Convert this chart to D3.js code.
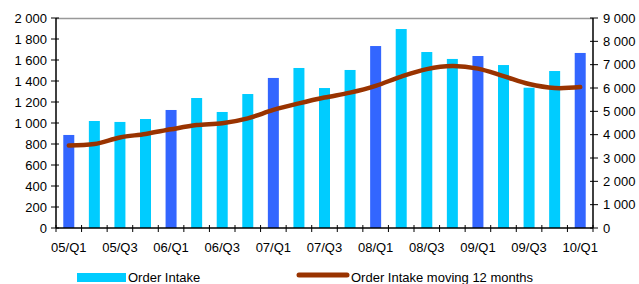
<!DOCTYPE html>
<html>
<head>
<meta charset="utf-8">
<script src="https://cdn.jsdelivr.net/npm/d3@7"></script>
<style>
  body { margin: 0; background: #fff; }
  svg { display: block; }
</style>
</head>
<body>
<script>
// Data
const quarters = ["05/Q1","05/Q2","05/Q3","05/Q4","06/Q1","06/Q2","06/Q3","06/Q4",
  "07/Q1","07/Q2","07/Q3","07/Q4","08/Q1","08/Q2","08/Q3","08/Q4",
  "09/Q1","09/Q2","09/Q3","09/Q4","10/Q1"];
const orderIntake = [886, 1019, 1010, 1038, 1124, 1238, 1105, 1276,
  1429, 1524, 1333, 1505, 1733, 1895, 1676, 1610,
  1638, 1552, 1336, 1495, 1667];
const movingTwelve = [3540, 3600, 3880, 4030, 4230, 4410, 4490, 4700,
  5060, 5340, 5590, 5800, 6090, 6490, 6810, 6940,
  6830, 6510, 6170, 6000, 6040];
const leftTicks = [0, 200, 400, 600, 800, 1000, 1200, 1400, 1600, 1800, 2000];
const rightTicks = [0, 1000, 2000, 3000, 4000, 5000, 6000, 7000, 8000, 9000];

// Colors
const cyan = '#00ccff';
const blue = '#3366ff';
const lineColor = '#993300';

const width = 639, height = 284;
const m = {left: 56, right: 46, top: 18, bottom: 56};
const x0 = m.left, x1 = width - m.right;
const y0 = height - m.bottom, y1 = m.top;

const fmt = v => d3.format(",")(v).replace(/,/g, " ");

const svg = d3.select("body").append("svg")
  .attr("width", width)
  .attr("height", height)
  .attr("font-family", "'Liberation Sans', Arial, sans-serif")
  .attr("font-size", 13);

const x = d3.scaleBand().domain(quarters).range([x0, x1]).paddingInner(0.57).paddingOuter(0.285);
const xc = d => x(d) + x.bandwidth() / 2;
const yL = d3.scaleLinear().domain([0, 2000]).range([y0, y1]);
const yR = d3.scaleLinear().domain([0, 9000]).range([y0, y1]);

// top border
svg.append("line")
  .attr("x1", x0).attr("x2", x1).attr("y1", y1 + 0.5).attr("y2", y1 + 0.5)
  .attr("stroke", "#999").attr("stroke-width", 1.5);

// bars
svg.append("g")
  .selectAll("rect")
  .data(quarters)
  .join("rect")
  .attr("x", d => x(d))
  .attr("width", x.bandwidth())
  .attr("y", (d, i) => yL(orderIntake[i]))
  .attr("height", (d, i) => y0 - yL(orderIntake[i]))
  .attr("fill", d => d.endsWith("Q1") ? blue : cyan);

// moving 12 months line
svg.append("path")
  .datum(movingTwelve)
  .attr("fill", "none")
  .attr("stroke", lineColor)
  .attr("stroke-width", 4.5)
  .attr("stroke-linecap", "round")
  .attr("stroke-linejoin", "round")
  .attr("d", d3.line()
    .x((d, i) => xc(quarters[i]))
    .y(d => yR(d))
    .curve(d3.curveCatmullRom.alpha(0.5)));

// axes
const axisG = svg.append("g").attr("stroke", "#000").attr("stroke-width", 1.5);
axisG.append("line").attr("x1", x0).attr("x2", x0).attr("y1", y1).attr("y2", y0);
axisG.append("line").attr("x1", x1).attr("x2", x1).attr("y1", y1).attr("y2", y0);
axisG.append("line").attr("x1", x0).attr("x2", x1).attr("y1", y0).attr("y2", y0);

axisG.selectAll(".lt").data(leftTicks).join("line")
  .attr("x1", x0 - 5).attr("x2", x0 + 3)
  .attr("y1", d => yL(d)).attr("y2", d => yL(d)).attr("stroke-width", 1);
axisG.selectAll(".rt").data(rightTicks).join("line")
  .attr("x1", x1 - 3).attr("x2", x1 + 5)
  .attr("y1", d => yR(d)).attr("y2", d => yR(d)).attr("stroke-width", 1);

const bounds = d3.range(quarters.length + 1).map(i => x0 + i * (x1 - x0) / quarters.length);
axisG.selectAll(".bt").data(bounds).join("line")
  .attr("x1", d => d).attr("x2", d => d)
  .attr("y1", y0 - 3).attr("y2", y0 + 4).attr("stroke-width", 1);

svg.append("g").selectAll("text").data(leftTicks).join("text")
  .attr("x", x0 - 9).attr("y", d => yL(d)).attr("dy", "0.35em")
  .attr("text-anchor", "end").attr("fill", "#000")
  .text(fmt);

svg.append("g").selectAll("text").data(rightTicks).join("text")
  .attr("x", x1 + 10).attr("y", d => yR(d)).attr("dy", "0.35em")
  .attr("text-anchor", "start").attr("fill", "#000")
  .text(fmt);

svg.append("g").selectAll("text").data(quarters.filter((d, i) => i % 2 === 0)).join("text")
  .attr("x", d => xc(d)).attr("y", y0 + 19)
  .attr("dy", "0.35em")
  .attr("text-anchor", "middle").attr("fill", "#000")
  .text(d => d);

// legend
const lg = svg.append("g");
lg.append("rect").attr("x", 77).attr("y", 273).attr("width", 49).attr("height", 9).attr("fill", cyan);
lg.append("text").attr("x", 128).attr("y", 277).attr("dy", "0.35em").text("Order Intake");
lg.append("line").attr("x1", 299).attr("x2", 347).attr("y1", 275).attr("y2", 275)
  .attr("stroke", lineColor).attr("stroke-width", 5).attr("stroke-linecap", "round");
lg.append("text").attr("x", 351).attr("y", 277).attr("dy", "0.35em").text("Order Intake moving 12 months");
</script>
</body>
</html>
